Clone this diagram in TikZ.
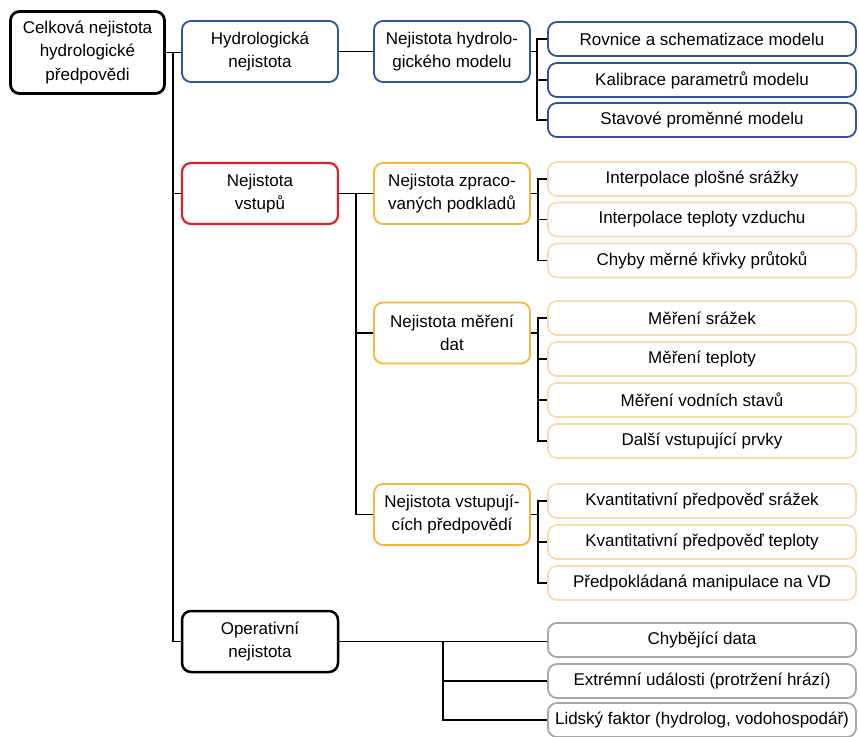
\documentclass[tikz,border=0pt]{standalone}
\usepackage{fontspec}
\setmainfont{Liberation Sans}
\definecolor{cblue}{HTML}{2E5597}
\definecolor{cred}{HTML}{E0202E}
\definecolor{corange}{HTML}{F6B53A}
\definecolor{clight}{HTML}{FBD9AC}
\definecolor{cgray}{HTML}{A6A6A6}
\begin{document}
\begin{tikzpicture}[x=1pt,y=-1pt,
  every node/.style={font=\fontsize{17}{23.5}\selectfont, align=center, inner sep=0pt},
  box/.style={draw, rounded corners=9pt, minimum width=156pt, minimum height=61pt, line width=1.8pt},
  rootbox/.style={box, line width=2.8pt, minimum width=154pt, minimum height=82pt},
  blackbox/.style={box, line width=2.5pt},
  bluebox/.style={box, draw=cblue},
  redbox/.style={box, draw=cred, line width=2.2pt},
  orabox/.style={box, draw=corange},
  leaf/.style={draw, rounded corners=9pt, minimum width=308pt, minimum height=34pt, line width=1.8pt},
  blueleaf/.style={leaf, draw=cblue},
  oraleaf/.style={leaf, draw=clight},
  grayleaf/.style={leaf, draw=cgray},
  conn/.style={line width=1.9pt}
]
\useasboundingbox (0,0) rectangle (859,736);

% level 1
\node[rootbox] (root) at (87.5,52.5) {Celková nejistota\\hydrologické\\předpovědi};
% level 2
\node[bluebox] (hyd) at (260,51.5) {Hydrologická\\nejistota};
\node[redbox] (vst) at (260,193.5) {Nejistota\\vstupů};
\node[blackbox] (ope) at (260,641.5) {Operativní\\nejistota};
% level 3
\node[bluebox] (hmod) at (452,51.5) {Nejistota hydrolo-\\gického modelu};
\node[orabox] (zpr) at (452,193.5) {Nejistota zpraco-\\vaných podkladů};
\node[orabox] (mer) at (452,333) {Nejistota měření\\dat};
\node[orabox] (vsp) at (452,514.5) {Nejistota vstupují-\\cích předpovědí};
% leaves
\node[blueleaf] (a1) at (702,39) {Rovnice a schematizace modelu};
\node[blueleaf] (a2) at (702,80) {Kalibrace parametrů modelu};
\node[blueleaf] (a3) at (702,120) {Stavové proměnné modelu};

\node[oraleaf] (b1) at (702,179) {Interpolace plošné srážky};
\node[oraleaf] (b2) at (702,219.5) {Interpolace teploty vzduchu};
\node[oraleaf] (b3) at (702,260.5) {Chyby měrné křivky průtoků};

\node[oraleaf] (m1) at (702,318) {Měření srážek};
\node[oraleaf] (m2) at (702,359) {Měření teploty};
\node[oraleaf] (m3) at (702,400) {Měření vodních stavů};
\node[oraleaf] (m4) at (702,441) {Další vstupující prvky};

\node[oraleaf] (p1) at (702,501) {Kvantitativní předpověď srážek};
\node[oraleaf] (p2) at (702,542) {Kvantitativní předpověď teploty};
\node[oraleaf] (p3) at (702,583) {Předpokládaná manipulace na VD};

\node[grayleaf] (g1) at (702,640) {Chybějící data};
\node[grayleaf] (g2) at (702,681) {Extrémní události (protržení hrází)};
\node[grayleaf] (g3) at (702,720) {Lidský faktor (hydrolog, vodohospodář)};

% connectors
\coordinate (t0) at (173,52.5);
\draw[conn] (root.east) -- (hyd.west |- root.east);
\draw[conn] (t0) |- (vst.west);
\draw[conn] (t0) |- (ope.west);
\draw[conn] (hyd.east) -- (hmod.west);

\coordinate (ta) at (537,51.5);
\draw[conn] (hmod.east) -- (ta);
\draw[conn] (ta) |- (a1.west);
\draw[conn] (ta) |- (a2.west);
\draw[conn] (ta) |- (a3.west);

\coordinate (t2) at (356,193.5);
\draw[conn] (vst.east) -- (zpr.west);
\draw[conn] (t2) |- (mer.west);
\draw[conn] (t2) |- (vsp.west);

\coordinate (tb) at (538,193.5);
\draw[conn] (zpr.east) -- (tb);
\draw[conn] (tb) |- (b1.west);
\draw[conn] (tb) |- (b2.west);
\draw[conn] (tb) |- (b3.west);

\coordinate (tm) at (538,333);
\draw[conn] (mer.east) -- (tm);
\draw[conn] (tm) |- (m1.west);
\draw[conn] (tm) |- (m2.west);
\draw[conn] (tm) |- (m3.west);
\draw[conn] (tm) |- (m4.west);

\coordinate (tp) at (538,514.5);
\draw[conn] (vsp.east) -- (tp);
\draw[conn] (tp) |- (p1.west);
\draw[conn] (tp) |- (p2.west);
\draw[conn] (tp) |- (p3.west);

\coordinate (tg) at (443,641.5);
\draw[conn] (ope.east) -- (ope.east -| g1.west);
\draw[conn] (tg) |- (g2.west);
\draw[conn] (tg) |- (g3.west);
\end{tikzpicture}
\end{document}
